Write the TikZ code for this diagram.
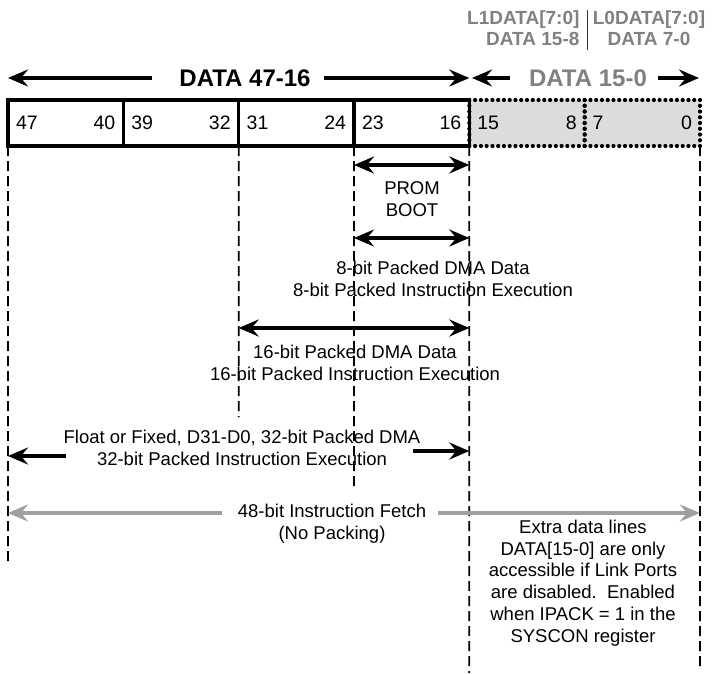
\documentclass[tikz,border=0pt]{standalone}
\usepackage{fontspec}
\setmainfont{Liberation Sans}
\usetikzlibrary{arrows.meta,calc}
\definecolor{lanegray}{RGB}{128,128,128}
\definecolor{fetchgray}{RGB}{160,160,160}
\definecolor{lanefill}{RGB}{220,220,220}

\begin{document}
\begin{tikzpicture}[x=1pt, y=-1pt,
  >={Stealth[length=20pt, width=17pt, inset=7pt]},
  bitbox/.style={draw, line width=3.2pt, outer sep=0pt, minimum width=115.33pt, minimum height=46pt,
    inner xsep=8pt, text width=99.33pt, font=\fontsize{19.5}{22}\selectfont},
  lanebox/.style={bitbox, draw=none, fill=lanefill},
  dot/.style={fill=black},
  guide/.style={line width=1.8pt, dash pattern=on 10pt off 5pt},
  span/.style={line width=3.4pt},
  fetch/.style={span, draw=fetchgray},
  txt/.style={align=center, font=\fontsize{18.5}{22}\selectfont},
  head/.style={font=\bfseries\fontsize{24}{26}\selectfont},
  lane/.style={font=\bfseries\fontsize{19}{21}\selectfont, text=lanegray}
]
\useasboundingbox (0,0) rectangle (713,673);

% link port lanes
\node[lane, align=right, anchor=east] (l1) at (583,28) {L1DATA[7:0]\\DATA 15-8};
\node[lane, align=center] (l0) at (649,28) {L0DATA[7:0]\\DATA 7-0};
\coordinate (sepT) at (587,10);
\coordinate (sepB) at (587,50);
\draw[line width=1pt, black!80] (sepT) -- (sepB);

% data bus headings
\node[head] (hi) at (245,78) {DATA 47-16};
\node[head, text=lanegray] (lo) at (588,78) {DATA 15-0};
\coordinate (hiL) at (8,78);
\coordinate (hiLend) at (152,78);
\coordinate (hiRend) at (324,78);
\coordinate (hiR) at (469.3,78);
\coordinate (loL) at (472,78);
\coordinate (loLend) at (510,78);
\coordinate (loRend) at (658,78);
\coordinate (loR) at (699,78);
\draw[span,->] (hiLend) -- (hiL);
\draw[span,->] (hiRend) -- (hiR);
\draw[span,->] (loLend) -- (loL);
\draw[span,->] (loRend) -- (loR);

% bit fields
\node[lanebox] (b1508) at (527,123) {15\hfill 8};
\node[lanebox] (b0700) at (642.33,123) {7\hfill 0};
% dotted borders of the link port lanes
\foreach \n in {b1508,b0700}{
  \foreach \t in {0,...,20}{
    \fill[dot] ($(\n.north west)!\t/20!(\n.north east)$) circle (2.1pt);
    \fill[dot] ($(\n.south west)!\t/20!(\n.south east)$) circle (2.1pt);
  }
  \foreach \t in {1,...,7}{
    \fill[dot] ($(\n.north west)!\t/8!(\n.south west)$) circle (2.1pt);
    \fill[dot] ($(\n.north east)!\t/8!(\n.south east)$) circle (2.1pt);
  }
}
\node[bitbox] (b4740) at (65.67,123) {47\hfill 40};
\node[bitbox] (b3932) at (181,123) {39\hfill 32};
\node[bitbox] (b3124) at (296.33,123) {31\hfill 24};
\node[bitbox] (b2316) at (411.67,123) {23\hfill 16};

% guide lines
\coordinate (g47) at (8,562);
\coordinate (g31) at (238.67,417);
\coordinate (g23) at (354,490);
\coordinate (g16) at (469.33,673);
\coordinate (g00) at (700,666);
\draw[guide] (b4740.south west) -- (g47);
\draw[guide] (b3124.south west) -- (g31);
\draw[guide] (b2316.south west) -- (g23);
\draw[guide] (b2316.south east) -- (g16);
\draw[guide] (b0700.south east) -- (g00);

% PROM boot
\coordinate (promL) at (354,165);
\coordinate (promR) at (469.33,165);
\draw[span,<->] (promL) -- (promR);
\node[txt] (prom) at (412,199) {PROM\\BOOT};

% 8-bit packing
\coordinate (p8L) at (354,238);
\coordinate (p8R) at (469.33,238);
\draw[span,<->] (p8L) -- (p8R);
\node[txt] (p8) at (433,279) {8-bit Packed DMA Data\\8-bit Packed Instruction Execution};

% 16-bit packing
\coordinate (p16L) at (238.67,328);
\coordinate (p16R) at (469.33,328);
\draw[span,<->] (p16L) -- (p16R);
\node[txt] (p16) at (355,363) {16-bit Packed DMA Data\\16-bit Packed Instruction Execution};

% 32-bit packing
\node[txt] (p32) at (242,448) {Float or Fixed, D31-D0, 32-bit Packed DMA\\32-bit Packed Instruction Execution};
\coordinate (p32L) at (8,456);
\coordinate (p32Lend) at (66,456);
\coordinate (p32Rend) at (413,451);
\coordinate (p32R) at (469.33,451);
\draw[span,->] (p32Lend) -- (p32L);
\draw[span,->] (p32Rend) -- (p32R);

% 48-bit fetch
\node[txt] (f48) at (332,524) {48-bit Instruction Fetch\\(No Packing)};
\coordinate (f48L) at (8,513);
\coordinate (f48Lend) at (222,513);
\coordinate (f48Rend) at (438,513);
\coordinate (f48R) at (700,513);
\draw[fetch,->] (f48Lend) -- (f48L);
\draw[fetch,->] (f48Rend) -- (f48R);

% note
\node[txt, font=\fontsize{18.5}{21.8}\selectfont] (extra) at (583,583)
  {Extra data lines\\DATA[15-0] are only\\accessible if Link Ports\\are disabled.\ \ Enabled\\when IPACK = 1 in the\\SYSCON register};
\end{tikzpicture}
\end{document}
